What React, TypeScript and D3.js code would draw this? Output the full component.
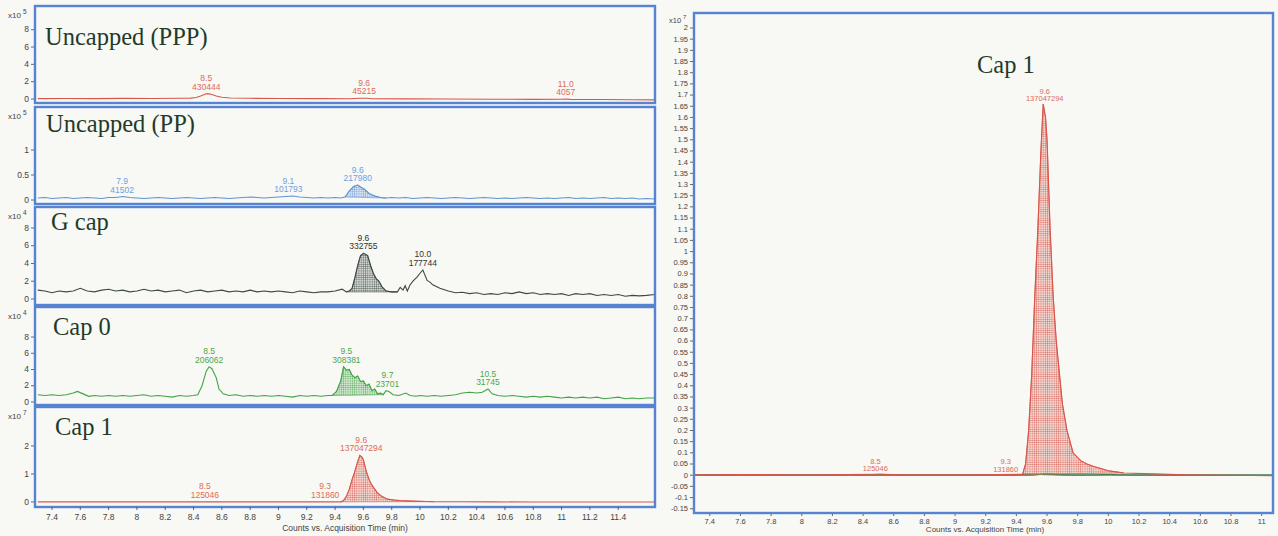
import React from 'react';
import * as d3 from 'd3';

type Pt = [number, number];

// extracted ion chromatograms, [retention time (min), counts in the panel's exponent]
const pppTrace: Pt[] = [
  [7.3, 0.05], [7.5, 0.06], [7.7, 0.05], [7.9, 0.07], [8.1, 0.06], [8.3, 0.08], [8.38, 0.1], [8.42, 0.18],
  [8.45, 0.35], [8.48, 0.55], [8.5, 0.62], [8.53, 0.52], [8.56, 0.35], [8.6, 0.2], [8.66, 0.12], [8.8, 0.08],
  [9.0, 0.06], [9.3, 0.04], [9.5, 0.03], [9.58, 0.08], [9.62, 0.09], [9.66, 0.03], [9.9, 0.02], [10.2, 0.0],
  [10.5, -0.02], [10.8, -0.04], [11.0, -0.03], [11.03, 0.0], [11.06, -0.04], [11.3, -0.06], [11.5, -0.08], [11.66, -0.1],
];

const ppTrace: Pt[] = [
  [7.3, 0.04], [7.35, 0.05], [7.4, 0.03], [7.45, 0.04], [7.5, 0.05], [7.55, 0.03], [7.6, 0.04], [7.65, 0.05],
  [7.7, 0.04], [7.75, 0.03], [7.8, 0.05], [7.85, 0.05], [7.9, 0.07], [7.95, 0.05], [8.0, 0.04], [8.05, 0.03],
  [8.1, 0.04], [8.15, 0.05], [8.2, 0.04], [8.25, 0.03], [8.3, 0.04], [8.35, 0.05], [8.4, 0.04], [8.45, 0.03],
  [8.5, 0.04], [8.55, 0.05], [8.6, 0.04], [8.65, 0.03], [8.7, 0.04], [8.75, 0.05], [8.8, 0.06], [8.85, 0.05],
  [8.9, 0.04], [8.95, 0.05], [9.0, 0.06], [9.05, 0.07], [9.1, 0.08], [9.15, 0.06], [9.2, 0.05], [9.25, 0.04],
  [9.3, 0.05], [9.35, 0.04], [9.4, 0.05], [9.44, 0.04], [9.47, 0.06], [9.5, 0.18], [9.53, 0.27], [9.56, 0.3],
  [9.58, 0.26], [9.61, 0.21], [9.64, 0.13], [9.68, 0.08], [9.72, 0.05], [9.76, 0.04], [9.8, 0.05], [9.85, 0.04],
  [9.9, 0.05], [9.95, 0.03], [10.0, 0.04], [10.05, 0.05], [10.1, 0.04], [10.15, 0.03], [10.2, 0.04], [10.25, 0.05],
  [10.3, 0.04], [10.35, 0.03], [10.4, 0.04], [10.45, 0.05], [10.5, 0.04], [10.55, 0.03], [10.6, 0.04], [10.65, 0.03],
  [10.7, 0.04], [10.75, 0.05], [10.8, 0.04], [10.85, 0.03], [10.9, 0.04], [10.95, 0.03], [11.0, 0.04], [11.05, 0.05],
  [11.1, 0.03], [11.15, 0.04], [11.2, 0.03], [11.25, 0.04], [11.3, 0.05], [11.35, 0.03], [11.4, 0.04], [11.45, 0.03],
  [11.5, 0.04], [11.55, 0.02], [11.6, 0.03], [11.66, 0.02],
];

const gcapTrace: Pt[] = [
  [7.3, 1.0], [7.35, 0.9], [7.4, 0.7], [7.45, 0.9], [7.5, 0.8], [7.55, 0.9], [7.6, 1.2], [7.65, 0.9],
  [7.7, 0.8], [7.75, 1.0], [7.8, 1.1], [7.85, 0.9], [7.9, 1.0], [7.95, 0.8], [8.0, 0.9], [8.05, 1.1],
  [8.1, 0.9], [8.15, 1.0], [8.2, 0.8], [8.25, 0.9], [8.3, 1.0], [8.35, 0.7], [8.4, 0.9], [8.45, 1.0],
  [8.5, 0.8], [8.55, 0.9], [8.6, 1.0], [8.65, 0.8], [8.7, 0.9], [8.75, 0.8], [8.8, 1.0], [8.85, 0.8],
  [8.9, 0.9], [8.95, 0.8], [9.0, 0.9], [9.05, 0.8], [9.1, 0.7], [9.15, 0.9], [9.2, 0.8], [9.25, 0.7],
  [9.3, 0.8], [9.35, 0.8], [9.4, 0.9], [9.45, 1.1], [9.48, 0.8], [9.5, 0.9], [9.52, 1.2], [9.54, 2.4],
  [9.56, 3.8], [9.58, 4.9], [9.6, 5.15], [9.62, 5.0], [9.63, 4.9], [9.65, 3.8], [9.67, 2.9], [9.69, 2.3],
  [9.71, 2.0], [9.73, 1.4], [9.76, 0.9], [9.8, 0.8], [9.84, 0.8], [9.86, 1.3], [9.88, 1.0], [9.895, 1.5],
  [9.91, 0.9], [9.93, 1.6], [9.95, 2.0], [9.98, 2.5], [10.0, 2.9], [10.02, 3.27], [10.05, 2.1], [10.07, 1.9],
  [10.09, 1.6], [10.14, 1.2], [10.2, 0.9], [10.25, 0.7], [10.3, 0.75], [10.35, 0.6], [10.4, 0.7], [10.45, 0.5],
  [10.5, 0.6], [10.55, 0.5], [10.6, 0.7], [10.65, 0.6], [10.7, 0.8], [10.75, 0.6], [10.8, 0.7], [10.85, 0.5],
  [10.9, 0.6], [10.95, 0.5], [11.0, 0.6], [11.05, 0.4], [11.1, 0.6], [11.15, 0.5], [11.2, 0.6], [11.25, 0.4],
  [11.3, 0.5], [11.35, 0.4], [11.4, 0.5], [11.45, 0.3], [11.5, 0.4], [11.55, 0.35], [11.6, 0.4], [11.66, 0.5],
];

const cap0Trace: Pt[] = [
  [7.3, 0.9], [7.35, 0.8], [7.4, 0.9], [7.45, 0.8], [7.5, 0.9], [7.55, 1.1], [7.58, 1.3], [7.62, 1.0],
  [7.66, 0.7], [7.7, 0.8], [7.75, 0.7], [7.8, 0.8], [7.85, 0.7], [7.9, 0.8], [7.95, 0.7], [8.0, 0.8],
  [8.05, 0.9], [8.1, 0.7], [8.15, 0.8], [8.2, 0.7], [8.25, 0.6], [8.3, 0.8], [8.35, 0.7], [8.4, 0.8],
  [8.43, 0.9], [8.46, 2.0], [8.49, 3.8], [8.51, 4.35], [8.53, 4.1], [8.56, 3.0], [8.58, 1.6], [8.61, 1.0],
  [8.65, 0.8], [8.7, 0.9], [8.75, 0.7], [8.8, 0.8], [8.85, 0.7], [8.9, 0.8], [8.95, 0.7], [9.0, 0.8],
  [9.05, 0.7], [9.1, 0.6], [9.15, 0.8], [9.2, 0.7], [9.25, 0.8], [9.3, 0.7], [9.35, 0.8], [9.38, 0.8],
  [9.41, 1.3], [9.44, 2.6], [9.46, 4.35], [9.48, 3.9], [9.5, 4.0], [9.52, 3.3], [9.54, 3.0], [9.56, 3.2],
  [9.58, 2.5], [9.6, 2.6], [9.62, 2.0], [9.64, 2.2], [9.66, 1.4], [9.68, 1.6], [9.7, 1.0], [9.72, 1.1],
  [9.74, 0.9], [9.76, 1.4], [9.78, 1.3], [9.81, 0.9], [9.85, 0.8], [9.9, 1.1], [9.93, 0.8], [9.97, 0.7],
  [10.0, 0.8], [10.05, 0.7], [10.1, 0.8], [10.15, 0.7], [10.2, 0.8], [10.25, 0.9], [10.3, 1.1], [10.35, 1.2],
  [10.4, 1.1], [10.44, 1.2], [10.48, 1.6], [10.51, 1.0], [10.55, 0.8], [10.6, 0.7], [10.65, 0.8], [10.7, 0.7],
  [10.75, 0.6], [10.8, 0.7], [10.85, 0.6], [10.9, 0.7], [10.95, 0.6], [11.0, 0.5], [11.05, 0.6], [11.1, 0.5],
  [11.15, 0.6], [11.2, 0.5], [11.25, 0.6], [11.3, 0.4], [11.35, 0.5], [11.4, 0.6], [11.45, 0.4], [11.5, 0.5],
  [11.55, 0.4], [11.6, 0.5], [11.66, 0.5],
];

const cap1Trace: Pt[] = [
  [7.3, 0.002], [7.6, 0.003], [8.0, 0.002], [8.3, 0.003], [8.5, 0.004], [8.7, 0.002], [9.0, 0.002], [9.3, 0.003],
  [9.44, 0.004], [9.46, 0.05], [9.48, 0.2], [9.5, 0.45], [9.52, 0.8], [9.54, 1.1], [9.56, 1.45], [9.575, 1.66],
  [9.59, 1.6], [9.6, 1.5], [9.62, 1.1], [9.64, 0.8], [9.66, 0.6], [9.68, 0.46], [9.7, 0.32], [9.73, 0.2],
  [9.77, 0.1], [9.82, 0.065], [9.86, 0.05], [9.9, 0.04], [9.95, 0.03], [10.0, 0.02], [10.05, 0.015], [10.1, 0.01],
  [10.3, 0.006], [10.5, 0.002], [10.8, 0.0], [11.07, -0.002], [11.3, 0.0], [11.66, 0.0],
];

// peak annotations: apex time, rt label, area
const pppPeaks = [
  { at: 8.49, rt: '8.5', area: '430444' },
  { at: 9.605, rt: '9.6', area: '45215' },
  { at: 11.03, rt: '11.0', area: '4057' },
];
const ppPeaks = [
  { at: 7.895, rt: '7.9', area: '41502' },
  { at: 9.07, rt: '9.1', area: '101793' },
  { at: 9.56, rt: '9.6', area: '217980' },
];
const gcapPeaks = [
  { at: 9.6, rt: '9.6', area: '332755' },
  { at: 10.02, rt: '10.0', area: '177744' },
];
const cap0Peaks = [
  { at: 8.51, rt: '8.5', area: '206062' },
  { at: 9.48, rt: '9.5', area: '308381' },
  { at: 9.77, rt: '9.7', area: '23701' },
  { at: 10.48, rt: '10.5', area: '31745' },
];
const cap1Peaks = [
  { at: 8.48, rt: '8.5', area: '125046' },
  { at: 9.33, rt: '9.3', area: '131860' },
  { at: 9.585, rt: '9.6', area: '137047294' },
];

// integrated (hatched) windows
const ppWindows: Pt[] = [[9.47, 9.76]];
const gcapWindows: Pt[] = [[9.48, 9.84]];
const cap0Windows: Pt[] = [[9.38, 9.74]];
const cap1Windows: Pt[] = [[9.44, 10.1]];

const ticks5a = [0, 2, 4, 6, 8];
const ticks5b = [0, 0.5, 1];
const ticks4 = [0, 2, 4, 6, 8];
const ticks7 = [0, 1, 2];
const xTicksLeft = [7.4, 7.6, 7.8, 8, 8.2, 8.4, 8.6, 8.8, 9, 9.2, 9.4, 9.6, 9.8, 10, 10.2, 10.4, 10.6, 10.8, 11, 11.2, 11.4];
const xTicksRight = [7.4, 7.6, 7.8, 8, 8.2, 8.4, 8.6, 8.8, 9, 9.2, 9.4, 9.6, 9.8, 10, 10.2, 10.4, 10.6, 10.8, 11];
const yTicksRight = [
  -0.15, -0.1, -0.05, 0, 0.05, 0.1, 0.15, 0.2, 0.25, 0.3, 0.35, 0.4, 0.45, 0.5, 0.55, 0.6, 0.65, 0.7, 0.75, 0.8,
  0.85, 0.9, 0.95, 1, 1.05, 1.1, 1.15, 1.2, 1.25, 1.3, 1.35, 1.4, 1.45, 1.5, 1.55, 1.6, 1.65, 1.7, 1.75, 1.8,
  1.85, 1.9, 1.95, 2,
];

const RED = '#d8564a';
const BLUE = '#5f93d6';
const DARK = '#3e4a45';
const GREEN = '#43a447';
const TITLE = '#1f3b2b';
const BORDER = '#5683d2';
const AXIS = '#444';
const SANS = 'Liberation Sans, Arial, sans-serif';
const SERIF = 'Liberation Serif, Times New Roman, serif';

const LX0 = 35;
const LX1 = 655;
const xL = d3.scaleLinear().domain([7.28, 11.66]).range([LX0, LX1]);

const panels = [
  { id: 'ppp', title: 'Uncapped (PPP)', tx: 45, ty: 39, trace: pppTrace, peaks: pppPeaks, windows: [] as Pt[], color: RED, text: '#e06a5c', exp: '5', ticks: ticks5a, domain: [-0.46, 10.74], top: 6, bottom: 103 },
  { id: 'pp', title: 'Uncapped (PP)', tx: 46, ty: 25, trace: ppTrace, peaks: ppPeaks, windows: ppWindows, color: BLUE, text: '#6fa0dc', exp: '5', ticks: ticks5b, domain: [-0.08, 1.86], top: 107, bottom: 204 },
  { id: 'gcap', title: 'G cap', tx: 51, ty: 23, trace: gcapTrace, peaks: gcapPeaks, windows: gcapWindows, color: DARK, text: '#333', exp: '4', ticks: ticks4, domain: [-0.68, 10.37], top: 207, bottom: 305 },
  { id: 'cap0', title: 'Cap 0', tx: 53, ty: 28, trace: cap0Trace, peaks: cap0Peaks, windows: cap0Windows, color: GREEN, text: '#4aa84c', exp: '4', ticks: ticks4, domain: [-0.37, 11.7], top: 307, bottom: 405 },
  { id: 'cap1', title: 'Cap 1', tx: 55, ty: 28, trace: cap1Trace, peaks: cap1Peaks, windows: cap1Windows, color: RED, text: '#e06a5c', exp: '7', ticks: ticks7, domain: [-0.18, 3.39], top: 407, bottom: 507 },
];

const fmt = (v: number) => String(+v.toFixed(2));

function apexOf(data: Pt[], t: number) {
  return d3.max(data.filter(d => Math.abs(d[0] - t) <= 0.031), d => d[1]) ?? 0;
}

function hatchPath(data: Pt[], w: Pt, x: any, y: any) {
  const seg = data.filter(d => d[0] >= w[0] - 1e-9 && d[0] <= w[1] + 1e-9);
  const a = seg[0];
  const b = seg[seg.length - 1];
  const base = (t: number) => a[1] + ((b[1] - a[1]) * (t - a[0])) / (b[0] - a[0]);
  return d3.area<Pt>().x(d => x(d[0])).y0(d => y(base(d[0]))).y1(d => y(d[1]))(seg) || '';
}

function linePath(data: Pt[], x: any, y: any) {
  return d3.line<Pt>().x(d => x(d[0])).y(d => y(d[1]))(data) || '';
}

function Hatch({ id, color }: { id: string; color: string }) {
  return (
    <pattern id={id} width={2.2} height={2.2} patternUnits="userSpaceOnUse">
      <path d="M0 0H2.2M0 0V2.2" stroke={color} strokeWidth={0.7} />
    </pattern>
  );
}

function PeakLabels({ data, peaks, x, y, color, size, off }: any) {
  return (
    <g fontFamily={SANS} fontSize={size} fill={color} textAnchor="middle">
      {peaks.map((p: any) => {
        const py = y(apexOf(data, p.at));
        return (
          <g key={p.rt + p.area}>
            <text x={x(p.at)} y={py - off - size}>{p.rt}</text>
            <text x={x(p.at)} y={py - off}>{p.area}</text>
          </g>
        );
      })}
    </g>
  );
}

function LeftPanel({ p }: { p: (typeof panels)[number] }) {
  const y = d3.scaleLinear().domain(p.domain).range([p.bottom, p.top]);
  const clip = `clip-${p.id}`;
  const hatchId = `hatch-${p.id}`;
  return (
    <g>
      <defs>
        <clipPath id={clip}>
          <rect x={LX0} y={p.top} width={LX1 - LX0} height={p.bottom - p.top} />
        </clipPath>
        <Hatch id={hatchId} color={p.color} />
      </defs>
      {p.ticks.map(t => (
        <g key={t} transform={`translate(0,${y(t)})`}>
          <line x1={LX0 - 4} x2={LX0} stroke={AXIS} strokeWidth={0.8} />
          <text x={LX0 - 6} dy="0.32em" textAnchor="end" fontSize={8.5} fontFamily={SANS} fill={AXIS}>
            {fmt(t)}
          </text>
        </g>
      ))}
      <text x={8} y={p.top + 12} fontSize={8} fontFamily={SANS} fill={AXIS}>
        x10<tspan dx={2} dy={-4} fontSize={6.5}>{p.exp}</tspan>
      </text>
      <g clipPath={`url(#${clip})`}>
        {p.windows.map(w => (
          <g key={w[0]}>
            <path d={hatchPath(p.trace, w, xL, y)} fill={p.color} fillOpacity={0.18} />
            <path d={hatchPath(p.trace, w, xL, y)} fill={`url(#${hatchId})`} stroke={p.color} strokeWidth={0.6} />
          </g>
        ))}
        <path d={linePath(p.trace, xL, y)} fill="none" stroke={p.color} strokeWidth={1.1} />
      </g>
      <PeakLabels data={p.trace} peaks={p.peaks} x={xL} y={y} color={p.text} size={8.5} off={4} />
      <text x={p.tx} y={p.top + p.ty} fontSize={24.5} fontFamily={SERIF} fill={TITLE}>
        {p.title}
      </text>
      <rect x={LX0} y={p.top} width={LX1 - LX0} height={p.bottom - p.top} fill="none" stroke={BORDER} strokeWidth={2.4} />
    </g>
  );
}

function RightPanel() {
  const x0 = 694, x1 = 1273, top = 13, bottom = 513;
  const x = d3.scaleLinear().domain([7.297, 11.074]).range([x0, x1]);
  const y = d3.scaleLinear().domain([-0.169, 2.067]).range([bottom, top]);
  // overlay of the other traces rescaled to x10^7
  const overlays = [
    { data: ppTrace.map(d => [d[0], d[1] / 100] as Pt), color: BLUE },
    { data: gcapTrace.map(d => [d[0], d[1] / 1000] as Pt), color: DARK },
    { data: cap0Trace.map(d => [d[0], d[1] / 1000] as Pt), color: GREEN },
  ];
  return (
    <g>
      <defs>
        <clipPath id="clip-right">
          <rect x={x0} y={top} width={x1 - x0} height={bottom - top} />
        </clipPath>
        <Hatch id="hatch-right" color={RED} />
      </defs>
      {yTicksRight.map(t => (
        <g key={t} transform={`translate(0,${y(t)})`}>
          <line x1={x0 - 4} x2={x0} stroke={AXIS} strokeWidth={0.8} />
          <text x={x0 - 6} dy="0.32em" textAnchor="end" fontSize={7.5} fontFamily={SANS} fill={AXIS}>
            {fmt(t)}
          </text>
        </g>
      ))}
      <text x={669} y={top + 10} fontSize={7.5} fontFamily={SANS} fill={AXIS}>
        x10<tspan dx={2} dy={-4} fontSize={6}>7</tspan>
      </text>
      {xTicksRight.map(t => (
        <g key={t} transform={`translate(${x(t)},${bottom})`}>
          <line y1={0} y2={3} stroke={AXIS} strokeWidth={0.8} />
          <text y={11} textAnchor="middle" fontSize={7.5} fontFamily={SANS} fill={AXIS}>
            {fmt(t)}
          </text>
        </g>
      ))}
      <text x={985} y={532} textAnchor="middle" fontSize={8} fontFamily={SANS} fill={AXIS}>
        Counts vs. Acquisition Time (min)
      </text>
      <g clipPath="url(#clip-right)">
        {overlays.map(o => (
          <path key={o.color} d={linePath(o.data, x, y)} fill="none" stroke={o.color} strokeWidth={1} />
        ))}
        {cap1Windows.map(w => (
          <g key={w[0]}>
            <path d={hatchPath(cap1Trace, w, x, y)} fill={RED} fillOpacity={0.18} />
            <path d={hatchPath(cap1Trace, w, x, y)} fill="url(#hatch-right)" stroke={RED} strokeWidth={0.7} />
          </g>
        ))}
        <path d={linePath(cap1Trace, x, y)} fill="none" stroke={RED} strokeWidth={1.1} />
      </g>
      <PeakLabels data={cap1Trace} peaks={cap1Peaks} x={x} y={y} color="#e06a5c" size={7.5} off={3} />
      <text x={977} y={73} fontSize={24.5} fontFamily={SERIF} fill={TITLE}>
        Cap 1
      </text>
      <rect x={x0} y={top} width={x1 - x0} height={bottom - top} fill="none" stroke={BORDER} strokeWidth={2.4} />
    </g>
  );
}

export default function App() {
  const last = panels[panels.length - 1];
  return (
    <svg width={1278} height={536} style={{ position: 'absolute', left: 0, top: 0 }}>
      <rect width={1278} height={536} fill="#f8f8f4" />
      {panels.map(p => (
        <LeftPanel key={p.id} p={p} />
      ))}
      {xTicksLeft.map(t => (
        <g key={t} transform={`translate(${xL(t)},${last.bottom})`}>
          <line y1={0} y2={3} stroke={AXIS} strokeWidth={0.8} />
          <text y={13} textAnchor="middle" fontSize={8.5} fontFamily={SANS} fill={AXIS}>
            {fmt(t)}
          </text>
        </g>
      ))}
      <text x={345} y={531} textAnchor="middle" fontSize={8.5} fontFamily={SANS} fill={AXIS}>
        Counts vs. Acquisition Time (min)
      </text>
      <RightPanel />
    </svg>
  );
}
